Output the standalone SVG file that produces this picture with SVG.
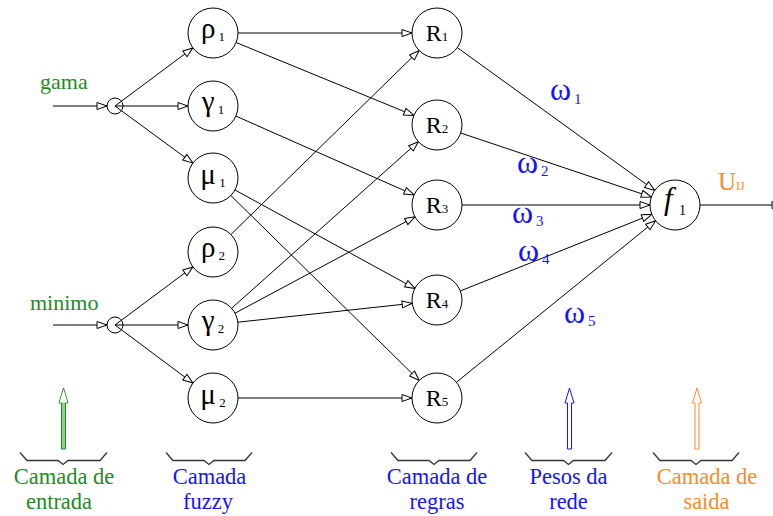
<svg xmlns="http://www.w3.org/2000/svg" width="773" height="516" viewBox="0 0 773 516">
  <style>
    text { font-family: "Liberation Serif", "Times New Roman", serif; }
    .node { fill: #fff; stroke: #000; stroke-width: 1; }
    .edge { stroke: #000; stroke-width: 1; fill: none; marker-end: url(#open); }
    .sym { font-size: 29px; fill: #000; text-anchor: middle; }
    .sub { font-size: 13px; }
    .rl { font-size: 24px; fill: #000; text-anchor: middle; }
    .w { font-size: 32px; fill: #1414ff; }
    .wsub { font-size: 15px; }
    .brace { fill: none; stroke: #333; stroke-width: 1.3; stroke-linejoin: miter; }
    .cap { font-size: 22.5px; text-anchor: middle; }
    .in { font-size: 22px; }
    .green { fill: #1e8c1e; }
    .blue { fill: #1414ff; }
    .orange { fill: #ff8a26; }
  </style>
  <defs>
    <marker id="open" markerUnits="userSpaceOnUse" markerWidth="14" markerHeight="10" refX="11" refY="4.5" orient="auto">
      <path d="M1,1 L11,4.5 L1,8 Z" fill="#fff" stroke="#000" stroke-width="1"/>
    </marker>
  </defs>

  <!-- connectors -->
  <g id="connectors">
    <!-- inputs -->
    <line class="edge" x1="53" y1="106" x2="107" y2="106"/>
    <line class="edge" x1="53" y1="325" x2="107" y2="325"/>
    <!-- splitters to fuzzy nodes -->
    <line class="edge" x1="115" y1="106" x2="192.9" y2="47.9"/>
    <line class="edge" x1="115" y1="106" x2="188" y2="106"/>
    <line class="edge" x1="115" y1="106" x2="192.9" y2="163.2"/>
    <line class="edge" x1="115" y1="325" x2="192.9" y2="266.9"/>
    <line class="edge" x1="115" y1="325" x2="188" y2="325"/>
    <line class="edge" x1="115" y1="325" x2="192.9" y2="383.1"/>
    <!-- fuzzy nodes to rules -->
    <line class="edge" x1="238" y1="33" x2="412" y2="33"/>
    <line class="edge" x1="236.1" y1="42.5" x2="413.9" y2="115.5"/>
    <line class="edge" x1="235.9" y1="116.1" x2="414.1" y2="194.9"/>
    <line class="edge" x1="235" y1="190" x2="415" y2="288.5"/>
    <line class="edge" x1="230.8" y1="195.5" x2="419.2" y2="380.5"/>
    <line class="edge" x1="230.9" y1="234.5" x2="419.1" y2="50.5"/>
    <line class="edge" x1="231.6" y1="308.3" x2="418.4" y2="141.7"/>
    <line class="edge" x1="235" y1="313.2" x2="415" y2="216.8"/>
    <line class="edge" x1="237.8" y1="322.2" x2="412.2" y2="303.3"/>
    <line class="edge" x1="238" y1="398" x2="412" y2="398"/>
    <!-- rules to output node -->
    <line class="edge" x1="457.3" y1="47.6" x2="654.7" y2="190.4"/>
    <line class="edge" x1="460.7" y1="133" x2="651.3" y2="197"/>
    <line class="edge" x1="462" y1="205" x2="650" y2="205"/>
    <line class="edge" x1="460.2" y1="291" x2="651.8" y2="214.4"/>
    <line class="edge" x1="456.4" y1="382.3" x2="655.6" y2="220.7"/>
    <!-- output -->
    <line class="edge" x1="700" y1="205" x2="782" y2="205"/>
  </g>

  <!-- input splitters -->
  <g id="in-gama">
    <circle cx="115" cy="106" r="8" fill="none" stroke="#000"/>
    <text class="in green" x="40" y="89">gama</text>
  </g>
  <g id="in-minimo">
    <circle cx="115" cy="325" r="8" fill="none" stroke="#000"/>
    <text class="in green" x="30" y="310">minimo</text>
  </g>

  <!-- fuzzy layer -->
  <g id="rho1">
    <circle class="node" cx="213" cy="33" r="25"/>
    <text class="sym" x="213" y="38">ρ<tspan class="sub" dy="3"> 1</tspan></text>
  </g>
  <g id="gamma1">
    <circle class="node" cx="213" cy="106" r="25"/>
    <text class="sym" x="213" y="111">γ<tspan class="sub" dy="3"> 1</tspan></text>
  </g>
  <g id="mu1">
    <circle class="node" cx="213" cy="178" r="25"/>
    <text class="sym" x="213" y="184">μ<tspan class="sub" dy="3"> 1</tspan></text>
  </g>
  <g id="rho2">
    <circle class="node" cx="213" cy="252" r="25"/>
    <text class="sym" x="213" y="257">ρ<tspan class="sub" dy="3"> 2</tspan></text>
  </g>
  <g id="gamma2">
    <circle class="node" cx="213" cy="325" r="25"/>
    <text class="sym" x="213" y="330">γ<tspan class="sub" dy="3"> 2</tspan></text>
  </g>
  <g id="mu2">
    <circle class="node" cx="213" cy="398" r="25"/>
    <text class="sym" x="213" y="404">μ<tspan class="sub" dy="3"> 2</tspan></text>
  </g>

  <!-- rule layer -->
  <g id="R1">
    <circle class="node" cx="437" cy="33" r="25"/>
    <text class="rl" x="437" y="41">R<tspan class="sub">1</tspan></text>
  </g>
  <g id="R2">
    <circle class="node" cx="437" cy="125" r="25"/>
    <text class="rl" x="437" y="133">R<tspan class="sub">2</tspan></text>
  </g>
  <g id="R3">
    <circle class="node" cx="437" cy="205" r="25"/>
    <text class="rl" x="437" y="213">R<tspan class="sub">3</tspan></text>
  </g>
  <g id="R4">
    <circle class="node" cx="437" cy="300" r="25"/>
    <text class="rl" x="437" y="308">R<tspan class="sub">4</tspan></text>
  </g>
  <g id="R5">
    <circle class="node" cx="437" cy="398" r="25"/>
    <text class="rl" x="437" y="406">R<tspan class="sub">5</tspan></text>
  </g>

  <!-- output node -->
  <g id="f1">
    <circle class="node" cx="675" cy="205" r="25"/>
    <text x="664" y="209" font-size="31" font-style="italic" fill="#000">f</text>
    <text x="679" y="215" font-size="14" fill="#000">1</text>
    <text x="718" y="190" font-size="25" class="orange">U<tspan font-size="12">IJ</tspan></text>
  </g>

  <!-- weights -->
  <g id="weights">
    <text class="w" x="550" y="100">ω<tspan class="wsub" dx="3" dy="4">1</tspan></text>
    <text class="w" x="517" y="173">ω<tspan class="wsub" dx="3" dy="3">2</tspan></text>
    <text class="w" x="512" y="223">ω<tspan class="wsub" dx="3" dy="3">3</tspan></text>
    <text class="w" x="518" y="261">ω<tspan class="wsub" dx="3" dy="3">4</tspan></text>
    <text class="w" x="564" y="323">ω<tspan class="wsub" dx="3" dy="3">5</tspan></text>
  </g>

  <!-- legend arrows -->
  <g id="legend-arrows">
    <path d="M61.5,449 L61.5,403 L59,403 L63.5,388 L68,403 L65.5,403 L65.5,449 Z" fill="#8fd08f" stroke="#1e8c1e" stroke-width="1"/>
    <path d="M59.6,402.5 L63.5,389.5 L67.4,402.5 Z" fill="#fff" stroke="none"/>
    <path d="M567.5,449 L567.5,403 L565,403 L569.5,388 L574,403 L571.5,403 L571.5,449 Z" fill="#fff" stroke="#1414ff" stroke-width="1"/>
    <path d="M695,449 L695,403 L692.5,403 L697,388 L701.5,403 L699,403 L699,449 Z" fill="#fff" stroke="#ff8a26" stroke-width="1"/>
  </g>

  <!-- legend braces and captions -->
  <g id="legend-entrada">
    <path class="brace" d="M20,452.5 L27,460.5 L58,460.5 L63,464.5 L68,460.5 L100,460.5 L107,452.5"/>
    <text class="cap green" x="64" y="484">Camada de</text>
    <text class="cap green" x="59" y="509">entrada</text>
  </g>
  <g id="legend-fuzzy">
    <path class="brace" d="M166,452.5 L173,460.5 L204,460.5 L209,464.5 L214,460.5 L245,460.5 L252,452.5"/>
    <text class="cap blue" x="209.5" y="484">Camada</text>
    <text class="cap blue" x="208" y="509">fuzzy</text>
  </g>
  <g id="legend-regras">
    <path class="brace" d="M391,452.5 L398,460.5 L429,460.5 L434,464.5 L439,460.5 L470,460.5 L477,452.5"/>
    <text class="cap blue" x="437" y="484">Camada de</text>
    <text class="cap blue" x="437" y="509">regras</text>
  </g>
  <g id="legend-pesos">
    <path class="brace" d="M525,452.5 L532,460.5 L563.5,460.5 L568.5,464.5 L573.5,460.5 L605,460.5 L612,452.5"/>
    <text class="cap blue" x="568.5" y="484">Pesos da</text>
    <text class="cap blue" x="568.5" y="509">rede</text>
  </g>
  <g id="legend-saida">
    <path class="brace" d="M653,452.5 L660,460.5 L691,460.5 L696,464.5 L701,460.5 L732,460.5 L739,452.5"/>
    <text class="cap orange" x="707" y="484">Camada de</text>
    <text class="cap orange" x="706.5" y="509">saida</text>
  </g>
</svg>
